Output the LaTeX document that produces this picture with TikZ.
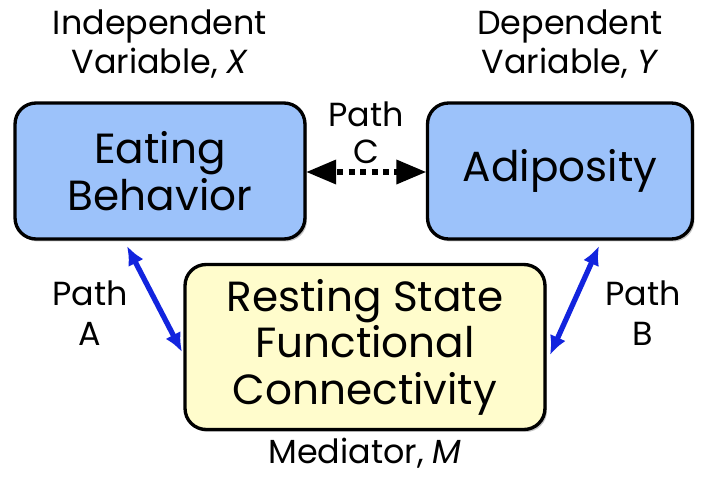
\documentclass[tikz,border=0pt]{standalone}
\usepackage{fontspec}
\setmainfont{Poppins}
\usetikzlibrary{shapes,arrows,arrows.meta,positioning,shadows}
\definecolor{boxblue}{RGB}{156,194,250}
\definecolor{boxyellow}{RGB}{255,252,204}
\definecolor{pathblue}{RGB}{18,36,222}
\tikzstyle{block} = [rectangle, draw=black, line width=1.9pt, rounded corners=0.42cm,
    text centered, align=center, font=\fontsize{24}{26.5}\selectfont,
    drop shadow={shadow xshift=0.04cm, shadow yshift=-0.05cm, opacity=0.45}]
\tikzstyle{label} = [align=center, font=\fontsize{19}{22.5}\selectfont]
\tikzstyle{line} = [draw, {Latex[length=0.38cm,width=0.34cm]}-{Latex[length=0.38cm,width=0.34cm]}, line width=3pt, pathblue]

\begin{document}
\begin{tikzpicture}[x=0.02cm, y=-0.02cm]
    \useasboundingbox (0,0) rectangle (707,477);
    % Nodes
    \node [block, fill=boxblue, minimum width=5.8cm, minimum height=2.72cm] (eating) at (160,171) {Eating\\Behavior};
    \node [block, fill=boxblue, minimum width=5.3cm, minimum height=2.72cm] (adipo) at (560,171) {Adiposity};
    \node [block, fill=boxyellow, minimum width=7.2cm, minimum height=3.3cm] (rsfc) at (365,347) {Resting State\\Functional\\Connectivity};
    \node [label] (xlab) at (160,44) {Independent\\Variable, \textit{X}};
    \node [label] (ylab) at (570,44) {Dependent\\Variable, \textit{Y}};
    \node [label, inner sep=0pt, below=0.14cm of rsfc] (mlab) {Mediator, \textit{M}};
    \node [label, font=\fontsize{19}{21}\selectfont] (plc) at (366,133) {Path\\C};
    \node [label] (pla) at (90,313) {Path\\A};
    \node [label] (plb) at (643,313) {Path\\B};
    \coordinate (a1) at (127,246);
    \coordinate (a2) at (182,352);
    \coordinate (b1) at (599,246);
    \coordinate (b2) at (550,355);

    % Edges
    \path [draw, <->, >=triangle 45, line width=3pt, dash pattern=on 3.5pt off 3pt] (eating.east |- 0,172) -- (adipo.west |- 0,172);
    \path [line] (a1) -- (a2);
    \path [line] (b1) -- (b2);
\end{tikzpicture}
\end{document}
